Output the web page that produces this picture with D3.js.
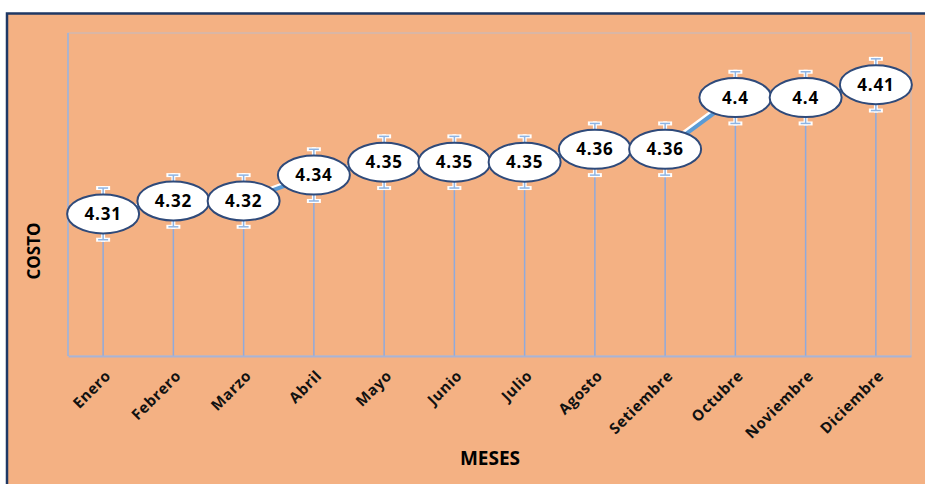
<!DOCTYPE html>
<html>
<head>
<meta charset="utf-8">
<script src="https://cdn.jsdelivr.net/npm/d3@7"></script>
<style>
  html, body { margin: 0; padding: 0; background: #ffffff; }
  svg { display: block; }
</style>
</head>
<body>
<svg id="chart" width="925" height="484"></svg>
<script>
// Monthly cost data
const months = ["Enero", "Febrero", "Marzo", "Abril", "Mayo", "Junio", "Julio",
                "Agosto", "Setiembre", "Octubre", "Noviembre", "Diciembre"];
const costs = [4.31, 4.32, 4.32, 4.34, 4.35, 4.35, 4.35, 4.36, 4.36, 4.4, 4.4, 4.41];
const errorMargin = [0.02, 0.02, 0.02, 0.02, 0.02, 0.02, 0.02, 0.02, 0.02, 0.02, 0.02, 0.02];
const yDomain = [4.2, 4.45];

const svg = d3.select("#chart");
const W = 925, H = 484;
const FONT = "'Open Sans', Lato, sans-serif";

// Chart area background and frame
svg.append("rect")
  .attr("x", 7).attr("y", 13.5).attr("width", W + 10).attr("height", H + 10)
  .attr("fill", "#F4B183").attr("stroke", "#1F3864").attr("stroke-width", 2.5);

const plot = { left: 68, right: 911, top: 33, bottom: 356 };

const x = d3.scaleBand().domain(months).range([plot.left, plot.right]).padding(0);
const y = d3.scaleLinear().domain(yDomain).range([plot.bottom, plot.top]);
const cx = m => x(m) + x.bandwidth() / 2;

// Plot area outline
svg.append("rect")
  .attr("x", plot.left).attr("y", plot.top)
  .attr("width", plot.right - plot.left).attr("height", plot.bottom - plot.top)
  .attr("fill", "none").attr("stroke", "#B4BFD6").attr("stroke-width", 0.8);

// Drop lines from each point to the category axis
svg.append("g").selectAll("line").data(months).join("line")
  .attr("x1", d => cx(d)).attr("x2", d => cx(d))
  .attr("y1", (d, i) => y(costs[i])).attr("y2", plot.bottom)
  .attr("stroke", "#8FAADC").attr("stroke-width", 1.5);

// Category axis
const xAxis = svg.append("g")
  .attr("transform", `translate(0,${plot.bottom})`)
  .call(d3.axisBottom(x).tickSize(0).tickPadding(0));
xAxis.select(".domain").attr("stroke", "#A9B3D3").attr("stroke-width", 2);
xAxis.selectAll("text")
  .attr("font-family", FONT)
  .attr("font-weight", "bold").attr("font-size", 15).attr("fill", "#111")
  .attr("letter-spacing", 0.6)
  .attr("text-anchor", "end")
  .attr("transform", "translate(5,17) rotate(-45)")
  .attr("dy", "0.35em");

// Left plot edge
svg.append("line")
  .attr("x1", plot.left).attr("x2", plot.left)
  .attr("y1", plot.top).attr("y2", plot.bottom)
  .attr("stroke", "#9DB2DA").attr("stroke-width", 1.5);

// Error bars
const eb = svg.append("g");
months.forEach((m, i) => {
  const xc = cx(m);
  const y1 = y(costs[i] + errorMargin[i]);
  const y0 = y(costs[i] - errorMargin[i]);
  const paths = [
    [[xc, y1], [xc, y0]],
    [[xc - 5, y1], [xc + 5, y1]],
    [[xc - 5, y0], [xc + 5, y0]]
  ];
  paths.forEach(p => {
    eb.append("line").attr("x1", p[0][0]).attr("y1", p[0][1]).attr("x2", p[1][0]).attr("y2", p[1][1])
      .attr("stroke", "#ffffff").attr("stroke-width", 4).attr("stroke-linecap", "square");
  });
  paths.forEach(p => {
    eb.append("line").attr("x1", p[0][0]).attr("y1", p[0][1]).attr("x2", p[1][0]).attr("y2", p[1][1])
      .attr("stroke", "#8FB4E3").attr("stroke-width", 1.5);
  });
});

// Cost line with white highlight
const line = d3.line().x((d, i) => cx(months[i])).y(d => y(d));
svg.append("path").datum(costs)
  .attr("d", line).attr("fill", "none")
  .attr("stroke", "#ffffff").attr("stroke-width", 4)
  .attr("transform", "translate(-2,-1.5)");
svg.append("path").datum(costs)
  .attr("d", line).attr("fill", "none")
  .attr("stroke", "#5B9BD5").attr("stroke-width", 4);

// Value labels in ellipses
const lbl = svg.append("g").selectAll("g").data(costs).join("g")
  .attr("transform", (d, i) => `translate(${cx(months[i])},${y(d)})`);
lbl.append("ellipse")
  .attr("rx", 36).attr("ry", 19.5)
  .attr("fill", "#ffffff").attr("stroke", "#2F4A7A").attr("stroke-width", 2);
lbl.append("text")
  .attr("text-anchor", "middle").attr("dy", "0.36em")
  .attr("font-family", FONT)
  .attr("font-weight", "bold").attr("font-size", 17).attr("fill", "#000")
  .attr("letter-spacing", 0.8)
  .text(d => d);

// Axis titles
svg.append("text")
  .attr("transform", "translate(40,251) rotate(-90)")
  .attr("text-anchor", "middle")
  .attr("font-family", FONT)
  .attr("font-weight", "bold").attr("font-size", 17).attr("fill", "#000")
  .text("COSTO");
svg.append("text")
  .attr("x", 490).attr("y", 465)
  .attr("text-anchor", "middle")
  .attr("font-family", FONT)
  .attr("font-weight", "bold").attr("font-size", 19).attr("fill", "#000")
  .text("MESES");
</script>
</body>
</html>
